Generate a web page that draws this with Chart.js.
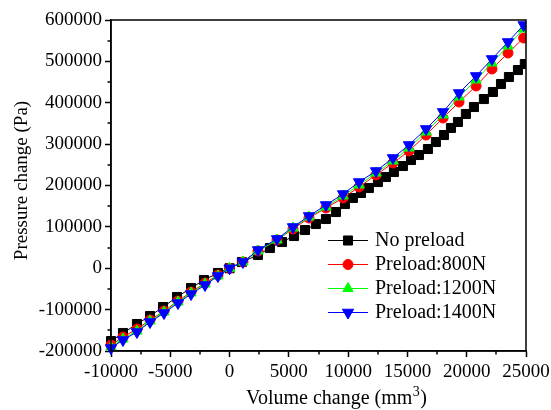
<!DOCTYPE html>
<html>
<head>
<meta charset="utf-8">
<title>Pressure change vs volume change</title>
<script src="https://cdn.jsdelivr.net/npm/chart.js@4.4.1/dist/chart.umd.min.js"></script>
<style>
    html, body { margin: 0; padding: 0; background: #fff; }
    #chartWrap { width: 551px; height: 410px; }
</style>
</head>
<body>
<div id="chartWrap"><canvas id="pvChart" width="551" height="410"></canvas></div>
<script>
// Volume change (mm3) on x, pressure change (Pa) on y
const noPreloadVolume = [-10000, -8990, -7810, -6710, -5610, -4430, -3250, -2160, -980, 0,
    1040, 2390, 3400, 4420, 5430, 6360, 7280, 8130, 8970, 9730,
    10400, 11080, 11750, 12510, 13190, 13860, 14620, 15300, 15970, 16730,
    17400, 18080, 18670, 19260, 19930, 20610, 21450, 22210, 22890, 23560, 24320, 24900];
const noPreloadPressure = [-176000, -156500, -134800, -115400, -93700, -69500, -47800, -28400, -11500, 0,
    15100, 32000, 48900, 63400, 77900, 92400, 106900, 119000, 135900, 155200,
    169800, 181900, 193900, 208400, 220500, 232600, 247100, 261600, 273700, 288200,
    305100, 322000, 339000, 353500, 372800, 389700, 409000, 426000, 445300, 462200, 479100, 493600];

// the three preloaded runs were sampled at the same volumes
const preloadVolume = [-10000, -8990, -7810, -6710, -5530, -4350, -3250, -2070, -980, 0,
    1130, 2400, 4000, 5350, 6700, 8130, 9570, 10920, 12350, 13780,
    15130, 16570, 18000, 19350, 20790, 22130, 23480, 24800];
const preload800Pressure = [-185500, -166200, -146900, -125100, -103400, -79200, -57400, -35700, -16300, 0,
    15100, 41700, 68300, 94900, 121400, 145600, 169800, 196400, 225400, 254400,
    283400, 322000, 363100, 401800, 440500, 481600, 520200, 556500];
const preload1200Pressure = [-190400, -171000, -151700, -127500, -105800, -81600, -59800, -38100, -18800, 0,
    15100, 41700, 68300, 97300, 123800, 148000, 174600, 201200, 230200, 259200,
    290600, 329300, 370400, 413900, 455000, 496100, 537200, 578300];
const preload1400Pressure = [-192800, -173400, -154100, -129900, -108200, -84000, -62300, -40500, -18800, 0,
    15100, 44100, 70700, 99700, 126300, 152800, 179400, 208400, 235000, 266500,
    297900, 336600, 377700, 423600, 464700, 505800, 546800, 587900];

const seriesNames = ['No preload', 'Preload:800N', 'Preload:1200N', 'Preload:1400N'];
const xRange = { min: -10000, max: 25000, step: 5000 };
const yRange = { min: -200000, max: 600000, step: 100000 };

const SERIF = "'Liberation Serif', 'Times New Roman', Times, serif";

const seriesStyles = [
    { color: '#000000', pointStyle: 'rect', radius: 6.4, rotation: 0 },
    { color: '#ff0000', pointStyle: 'circle', radius: 5, rotation: 0 },
    { color: '#00ff00', pointStyle: 'triangle', radius: 6, rotation: 0 },
    { color: '#0000ff', pointStyle: 'triangle', radius: 6.5, rotation: 180 }
];

function toPoints(xs, ys) {
    return xs.map((x, i) => ({ x: x, y: ys[i] }));
}

function makeDataset(index, points) {
    const s = seriesStyles[index];
    return {
        label: seriesNames[index],
        data: points,
        borderColor: s.color,
        backgroundColor: s.color,
        borderWidth: 1,
        pointStyle: s.pointStyle,
        pointRadius: s.radius,
        pointRotation: s.rotation,
        pointBorderWidth: 1,
        pointBorderColor: s.color,
        pointBackgroundColor: s.color,
        tension: 0,
        // blue drawn last, on top of the others
        order: 3 - index,
        clip: { left: 8, top: 8, right: 0, bottom: 8 }
    };
}

// box around the plot plus the short minor ticks between labelled ones
const framePlugin = {
    id: 'frame',
    afterDatasetsDraw(chart) {
        const { ctx, chartArea: a, scales } = chart;
        ctx.save();
        ctx.strokeStyle = '#000';
        ctx.lineWidth = 1.5;
        ctx.strokeRect(a.left, a.top, a.right - a.left, a.bottom - a.top);

        ctx.beginPath();
        for (let v = xRange.min + xRange.step / 2; v < xRange.max; v += xRange.step) {
            const px = Math.round(scales.x.getPixelForValue(v));
            ctx.moveTo(px, a.bottom);
            ctx.lineTo(px, a.bottom + 3.5);
        }
        for (let v = yRange.min + yRange.step / 2; v < yRange.max; v += yRange.step) {
            const py = Math.round(scales.y.getPixelForValue(v));
            ctx.moveTo(a.left, py);
            ctx.lineTo(a.left - 3.5, py);
        }
        ctx.stroke();
        ctx.restore();
    }
};

// axis titles and the line+marker legend
const annotatePlugin = {
    id: 'annotate',
    afterDraw(chart) {
        const { ctx, chartArea: a } = chart;
        ctx.save();
        ctx.fillStyle = '#000';

        // x title with superscript 3
        const main = 'Volume change (mm';
        const sup = '3';
        const tail = ')';
        ctx.font = '20px ' + SERIF;
        const wMain = ctx.measureText(main).width;
        const wTail = ctx.measureText(tail).width;
        ctx.font = '14px ' + SERIF;
        const wSup = ctx.measureText(sup).width;
        const x = 336 - (wMain + wSup + wTail) / 2;
        const base = 404;
        ctx.textAlign = 'left';
        ctx.textBaseline = 'alphabetic';
        ctx.font = '20px ' + SERIF;
        ctx.fillText(main, x, base);
        ctx.font = '14px ' + SERIF;
        ctx.fillText(sup, x + wMain + 0.5, base - 8);
        ctx.font = '20px ' + SERIF;
        ctx.fillText(tail, x + wMain + wSup + 1, base);

        // y title
        ctx.save();
        ctx.translate(27, (a.top + a.bottom) / 2 - 5);
        ctx.rotate(-Math.PI / 2);
        ctx.textAlign = 'center';
        ctx.font = '19px ' + SERIF;
        ctx.fillText('Pressure change (Pa)', 0, 0);
        ctx.restore();

        // legend
        const lx0 = 328, lx1 = 368, mx = 348, tx = 375;
        const rows = [240, 264, 288, 312];
        seriesStyles.forEach((s, i) => {
            const y = rows[i];
            ctx.strokeStyle = s.color;
            ctx.lineWidth = 1;
            ctx.beginPath();
            ctx.moveTo(lx0, y + 0.5);
            ctx.lineTo(lx1, y + 0.5);
            ctx.stroke();
            ctx.fillStyle = s.color;
            Chart.helpers.drawPoint(ctx, {
                pointStyle: s.pointStyle,
                radius: s.radius,
                rotation: s.rotation,
                borderWidth: 1
            }, mx, y + 0.5);
            ctx.fillStyle = '#000';
            ctx.font = '20px ' + SERIF;
            ctx.textAlign = 'left';
            ctx.textBaseline = 'middle';
            ctx.fillText(seriesNames[i], tx, y + 1);
        });
        ctx.restore();
    }
};

const tickFont = { family: SERIF, size: 19 };
const plainNumber = value => String(value);

const pvChart = new Chart(document.getElementById('pvChart'), {
    type: 'line',
    data: {
        datasets: [
            makeDataset(0, toPoints(noPreloadVolume, noPreloadPressure)),
            makeDataset(1, toPoints(preloadVolume, preload800Pressure)),
            makeDataset(2, toPoints(preloadVolume, preload1200Pressure)),
            makeDataset(3, toPoints(preloadVolume, preload1400Pressure))
        ]
    },
    options: {
        responsive: false,
        animation: false,
        layout: { padding: { left: 0, right: 25, top: 20, bottom: 0 } },
        plugins: {
            legend: { display: false },
            tooltip: { enabled: false }
        },
        scales: {
            x: {
                type: 'linear',
                min: xRange.min,
                max: xRange.max,
                ticks: {
                    stepSize: xRange.step,
                    color: '#000',
                    font: tickFont,
                    maxRotation: 0,
                    autoSkip: false,
                    padding: 4,
                    callback: plainNumber
                },
                grid: { drawOnChartArea: false, tickLength: 6, tickWidth: 1.5, tickColor: '#000' },
                border: { color: '#000', width: 1.5 },
                afterFit(scale) {
                    scale.height = 59;
                    // end labels may hang past the plot edges
                    scale.paddingLeft = 0;
                    scale.paddingRight = 0;
                }
            },
            y: {
                type: 'linear',
                min: yRange.min,
                max: yRange.max,
                ticks: {
                    stepSize: yRange.step,
                    color: '#000',
                    font: tickFont,
                    padding: 3,
                    callback: plainNumber
                },
                grid: { drawOnChartArea: false, tickLength: 6, tickWidth: 1.5, tickColor: '#000' },
                border: { color: '#000', width: 1.5 },
                afterFit(scale) {
                    scale.width = 111;
                    scale.paddingTop = 0;
                    scale.paddingBottom = 0;
                }
            }
        }
    },
    plugins: [framePlugin, annotatePlugin]
});
</script>
</body>
</html>
